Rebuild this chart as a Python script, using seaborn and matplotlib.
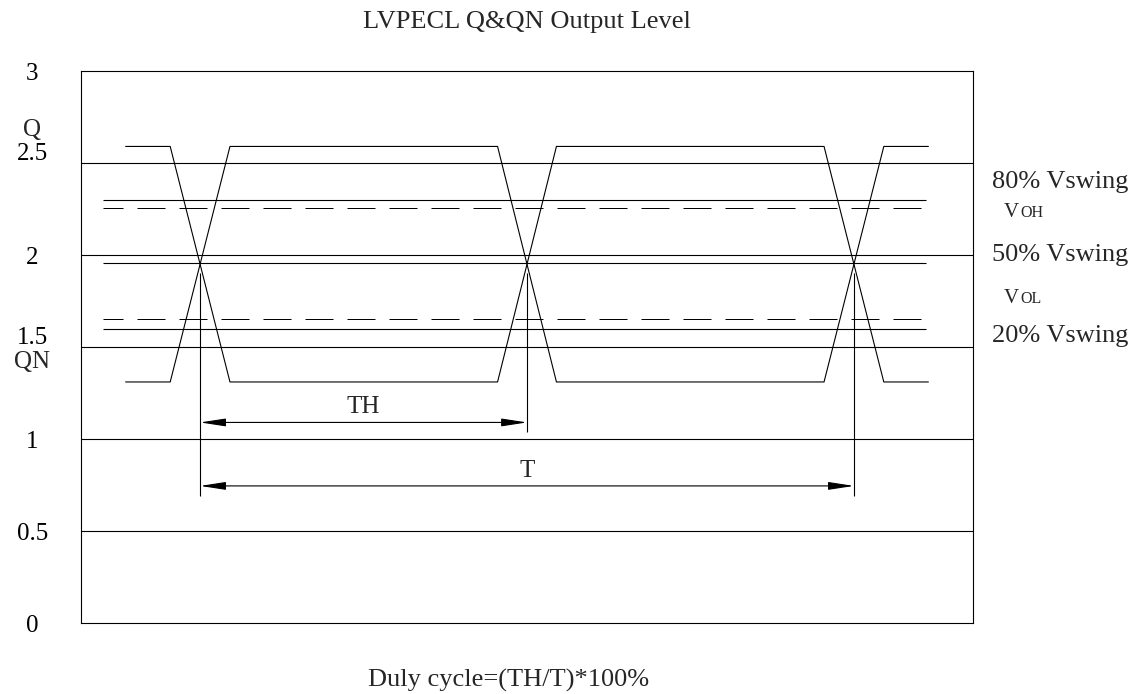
import pandas as pd
import seaborn as sns
import matplotlib.pyplot as plt
from matplotlib.transforms import ScaledTranslation

# waveform corners: time (arbitrary units) and level (V)
edge_t = [0.5, 1.0, 1.67, 4.67, 5.33, 8.33, 9.0, 9.5]
q_level = [2.59, 2.59, 1.31, 1.31, 2.59, 2.59, 1.31, 1.31]
qn_level = [1.31, 1.31, 2.59, 2.59, 1.31, 1.31, 2.59, 2.59]

# reference levels
swing_levels = [2.30, 1.955, 1.60]      # 80%, 50%, 20% Vswing
vo_levels = [2.255, 1.65]               # VOH, VOL (dashed)
ref_start, ref_end = 0.25, 9.47
grid_levels = [0.5, 1, 1.5, 2, 2.5]

# crossing points / dimension lines
cross_t = [1.335, 5.0, 8.665]
cross_v = 1.90
marker_bottom = [0.69, 1.04, 0.69]
th_y = 1.09
t_y = 0.745

yticks = [0, 0.5, 1, 1.5, 2, 2.5, 3]
ytick_labels = ['0', '0.5', '1', '1.5', '2', '2.5', '3']
right_labels = ['80% Vswing', '50% Vswing', '20% Vswing']
right_label_y = [2.364, 1.967, 1.527]
vo_subs = ['OH', 'OL']
vo_label_y = [2.207, 1.739]

sns.set_theme(style='white')
plt.rcParams['font.family'] = ['Liberation Serif', 'DejaVu Serif']

W, H = 1137, 694
fig = plt.figure(figsize=(W / 100, H / 100), dpi=100)
ax = fig.add_axes([81 / W, 71 / H, 892 / W, 552 / H])

lw = 0.8
df = pd.DataFrame({
    't': edge_t * 2,
    'v': q_level + qn_level,
    'sig': ['Q'] * len(edge_t) + ['QN'] * len(edge_t),
})
sns.lineplot(data=df, x='t', y='v', units='sig', estimator=None, sort=False,
             color='black', lw=lw, ax=ax)

ax.hlines(grid_levels, 0, 10, color='black', lw=lw)
ax.hlines(swing_levels, ref_start, ref_end, color='black', lw=lw)
for lv in vo_levels:
    ax.plot([ref_start, ref_end], [lv, lv], color='black', lw=0.72,
            linestyle=(8, (28, 14)))

# vertical markers at the crossings
ax.vlines(cross_t, marker_bottom, cross_v, color='black', lw=lw)

arrow = dict(arrowstyle='<|-|>,head_length=1.3,head_width=0.2', color='black',
             lw=lw, shrinkA=0, shrinkB=0)
ax.annotate('', xy=(cross_t[1], th_y), xytext=(cross_t[0], th_y), arrowprops=arrow)
ax.annotate('', xy=(cross_t[2], t_y), xytext=(cross_t[0], t_y), arrowprops=arrow)
ax.text((cross_t[0] + cross_t[1]) / 2, th_y + 0.052, 'TH', ha='center', va='baseline', fontsize=18)
ax.text((cross_t[0] + cross_t[2]) / 2, t_y + 0.048, 'T', ha='center', va='baseline', fontsize=18)

ax.set_xlim(0, 10)
ax.set_ylim(0, 3)
ax.set_xticks([])
ax.set_yticks(yticks, ytick_labels)
ax.tick_params(axis='y', length=0, pad=35, labelsize=18, labelcolor='black')
ax.set_xlabel('')
ax.set_ylabel('')
for lbl in ax.get_yticklabels():
    lbl.set_ha('center')
    if lbl.get_text() in ('2.5', '1.5'):
        lbl.set_transform(lbl.get_transform() + ScaledTranslation(0, 8 / 72, fig.dpi_scale_trans))
for sp in ax.spines.values():
    sp.set_color('black')
    sp.set_linewidth(lw)

ytr = ax.get_yaxis_transform()
ax.text(-0.0549, 2.68, 'Q', transform=ytr, ha='center', va='center', fontsize=18)
ax.text(-0.0549, 1.42, 'QN', transform=ytr, ha='center', va='center', fontsize=18)

for txt, y in zip(right_labels, right_label_y):
    ax.text(1.021, y, txt, transform=ytr, ha='left', va='baseline', fontsize=19)
for sub, y in zip(vo_subs, vo_label_y):
    ax.text(1.0348, y, 'V', transform=ytr, ha='left', va='baseline', fontsize=15)
    ax.text(1.0527, y, sub, transform=ytr, ha='left', va='baseline', fontsize=11.5)

fig.text(527 / W, 1 - 28 / H, 'LVPECL Q&QN Output Level', ha='center', va='baseline', fontsize=19)
fig.text(368 / W, 1 - 687 / H, 'Duly cycle=(TH/T)*100%', ha='left', va='baseline', fontsize=19)

fig.savefig('out.png', dpi=100, facecolor='white')
